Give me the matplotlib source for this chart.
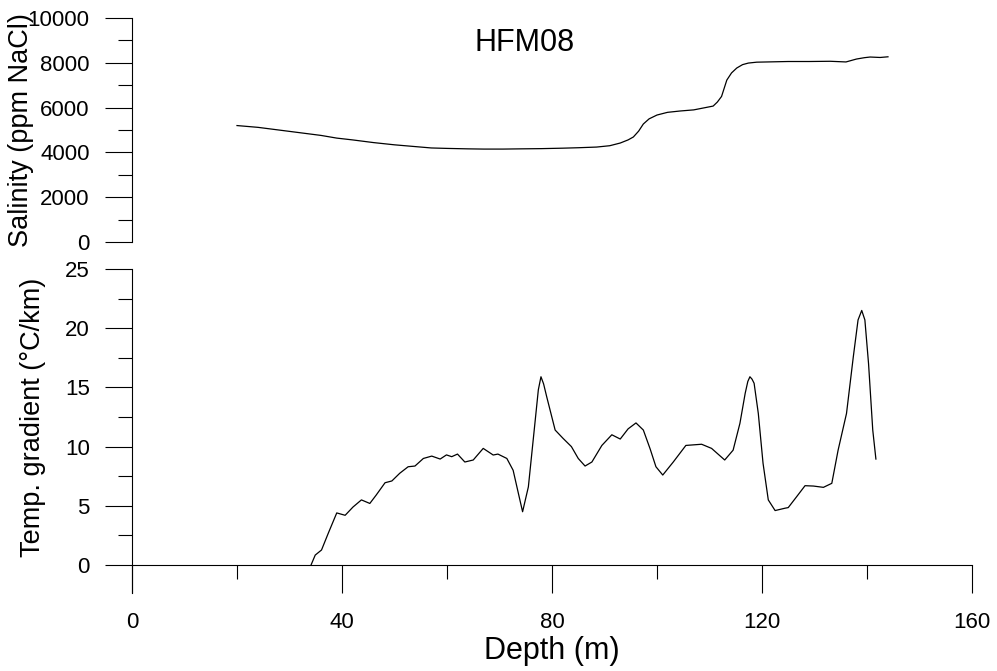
import matplotlib
matplotlib.use('Agg')
import matplotlib.pyplot as plt
from matplotlib.ticker import MultipleLocator

plt.rcParams['font.family'] = ['Liberation Sans', 'DejaVu Sans']

# salinity profile (top panel)
sal_depth = [20, 24, 28, 32, 36, 39, 42, 46, 50, 54, 57, 60, 64, 67, 70.7, 74, 78, 82, 85,
             88.5, 91, 93, 94.5, 95.5, 96.5, 97.4, 98.5, 100, 102, 104.4, 107, 110.7, 111.5,
             112.3, 113.3, 114.2, 115.2, 116.3, 117.4, 119, 121, 125, 129, 133, 136, 138,
             139.5, 140.6, 142.5, 144]
sal_value = [5200, 5120, 5000, 4880, 4760, 4640, 4560, 4440, 4340, 4260, 4200, 4180, 4160,
             4150, 4150, 4160, 4170, 4190, 4210, 4240, 4300, 4420, 4560, 4690, 4950, 5270,
             5500, 5670, 5790, 5850, 5900, 6070, 6250, 6500, 7230, 7550, 7770, 7920, 7990,
             8030, 8040, 8060, 8060, 8070, 8040, 8170, 8230, 8260, 8240, 8270]

# temperature gradient (bottom panel)
grad_depth = [34.1, 34.9, 36.1, 37.4, 39.0, 40.6, 42.1, 43.7, 45.3, 46.5, 48.2, 49.5, 51.0,
              52.6, 53.9, 55.5, 57.1, 58.7, 59.9, 60.9, 62.0, 63.4, 65.0, 66.9, 68.8, 69.7,
              71.4, 72.6, 73.6, 74.4, 75.5, 76.8, 77.4, 77.9, 78.4, 79.0, 80.6, 82.1, 83.7,
              85.0, 86.3, 87.6, 89.5, 91.4, 93.0, 94.5, 96.0, 97.4, 98.7, 99.8, 101.1, 103.1,
              105.5, 108.5, 110.4, 112.9, 114.5, 115.8, 116.8, 117.3, 117.7, 118.1, 118.5,
              119.3, 120.2, 121.2, 122.5, 124.4, 125.0, 126.6, 128.2, 129.8, 131.7, 133.3,
              134.5, 136.1, 137.4, 138.3, 139.0, 139.6, 140.3, 141.1, 141.7]
grad_value = [0.0, 0.84, 1.27, 2.7, 4.4, 4.2, 4.9, 5.5, 5.2, 5.9, 6.95, 7.1, 7.75, 8.3, 8.36,
              9.0, 9.2, 8.95, 9.3, 9.15, 9.37, 8.7, 8.87, 9.85, 9.29, 9.37, 9.0, 8.0, 6.05,
              4.5, 6.6, 12.2, 14.8, 15.9, 15.3, 14.2, 11.4, 10.7, 10.0, 9.0, 8.36, 8.7, 10.1,
              11.0, 10.64, 11.5, 12.0, 11.4, 9.8, 8.3, 7.6, 8.7, 10.1, 10.2, 9.85, 8.87, 9.7,
              11.97, 14.5, 15.5, 15.9, 15.7, 15.35, 12.8, 8.6, 5.5, 4.6, 4.8, 4.85, 5.77, 6.7,
              6.67, 6.56, 6.9, 9.7, 12.8, 17.6, 20.7, 21.5, 20.7, 17.0, 11.4, 8.95]

tick_fs = 16
label_fs = 19.5

fig = plt.figure(figsize=(9.97, 6.71), dpi=100)
ax1 = fig.add_axes([0.1324, 0.6393, 0.8425, 0.3338])
ax2 = fig.add_axes([0.1324, 0.1162, 0.8425, 0.4829])

# top panel
ax1.plot(sal_depth, sal_value, color='black', lw=0.9)
ax1.set_xlim(0, 160)
ax1.set_ylim(0, 10000)
for s in ['top', 'right', 'bottom']:
    ax1.spines[s].set_visible(False)
ax1.spines['left'].set_linewidth(0.8)
ax1.set_xticks([])
ax1.yaxis.set_major_locator(MultipleLocator(2000))
ax1.yaxis.set_minor_locator(MultipleLocator(1000))
ax1.tick_params(axis='y', which='major', length=19.5, width=0.8, pad=11, labelsize=tick_fs)
ax1.tick_params(axis='y', which='minor', length=10, width=0.8)
ax1.set_facecolor('none')
fig.text(525 / 997, 1 - 43 / 671, 'HFM08', ha='center', va='center', fontsize=22)

# bottom panel
ax2.plot(grad_depth, grad_value, color='black', lw=0.9)
ax2.set_xlim(0, 160)
ax2.set_ylim(-2.365, 25)
for s in ['top', 'right']:
    ax2.spines[s].set_visible(False)
ax2.spines['bottom'].set_position(('data', 0))
ax2.spines['bottom'].set_linewidth(0.8)
ax2.spines['left'].set_linewidth(0.8)
ax2.set_yticks([0, 5, 10, 15, 20, 25])
ax2.yaxis.set_minor_locator(MultipleLocator(2.5))
ax2.set_xticks([0, 40, 80, 120, 160])
ax2.xaxis.set_minor_locator(MultipleLocator(20))
ax2.tick_params(axis='y', which='major', length=19.5, width=0.8, pad=11, labelsize=tick_fs)
ax2.tick_params(axis='y', which='minor', length=10, width=0.8)
ax2.tick_params(axis='x', which='major', length=20, width=0.8, pad=14, labelsize=tick_fs)
ax2.tick_params(axis='x', which='minor', length=10, width=0.8)
ax2.set_facecolor('none')

fig.text(21 / 997, 1 - 130 / 671, 'Salinity (ppm NaCl)', rotation=90,
         ha='center', va='center', fontsize=label_fs)
fig.text(33 / 997, 1 - 417 / 671, 'Temp. gradient (°C/km)', rotation=90,
         ha='center', va='center', fontsize=label_fs)
fig.text(552 / 997, 1 - 651 / 671, 'Depth (m)', ha='center', va='center', fontsize=22)

fig.savefig('out.png', dpi=100)
